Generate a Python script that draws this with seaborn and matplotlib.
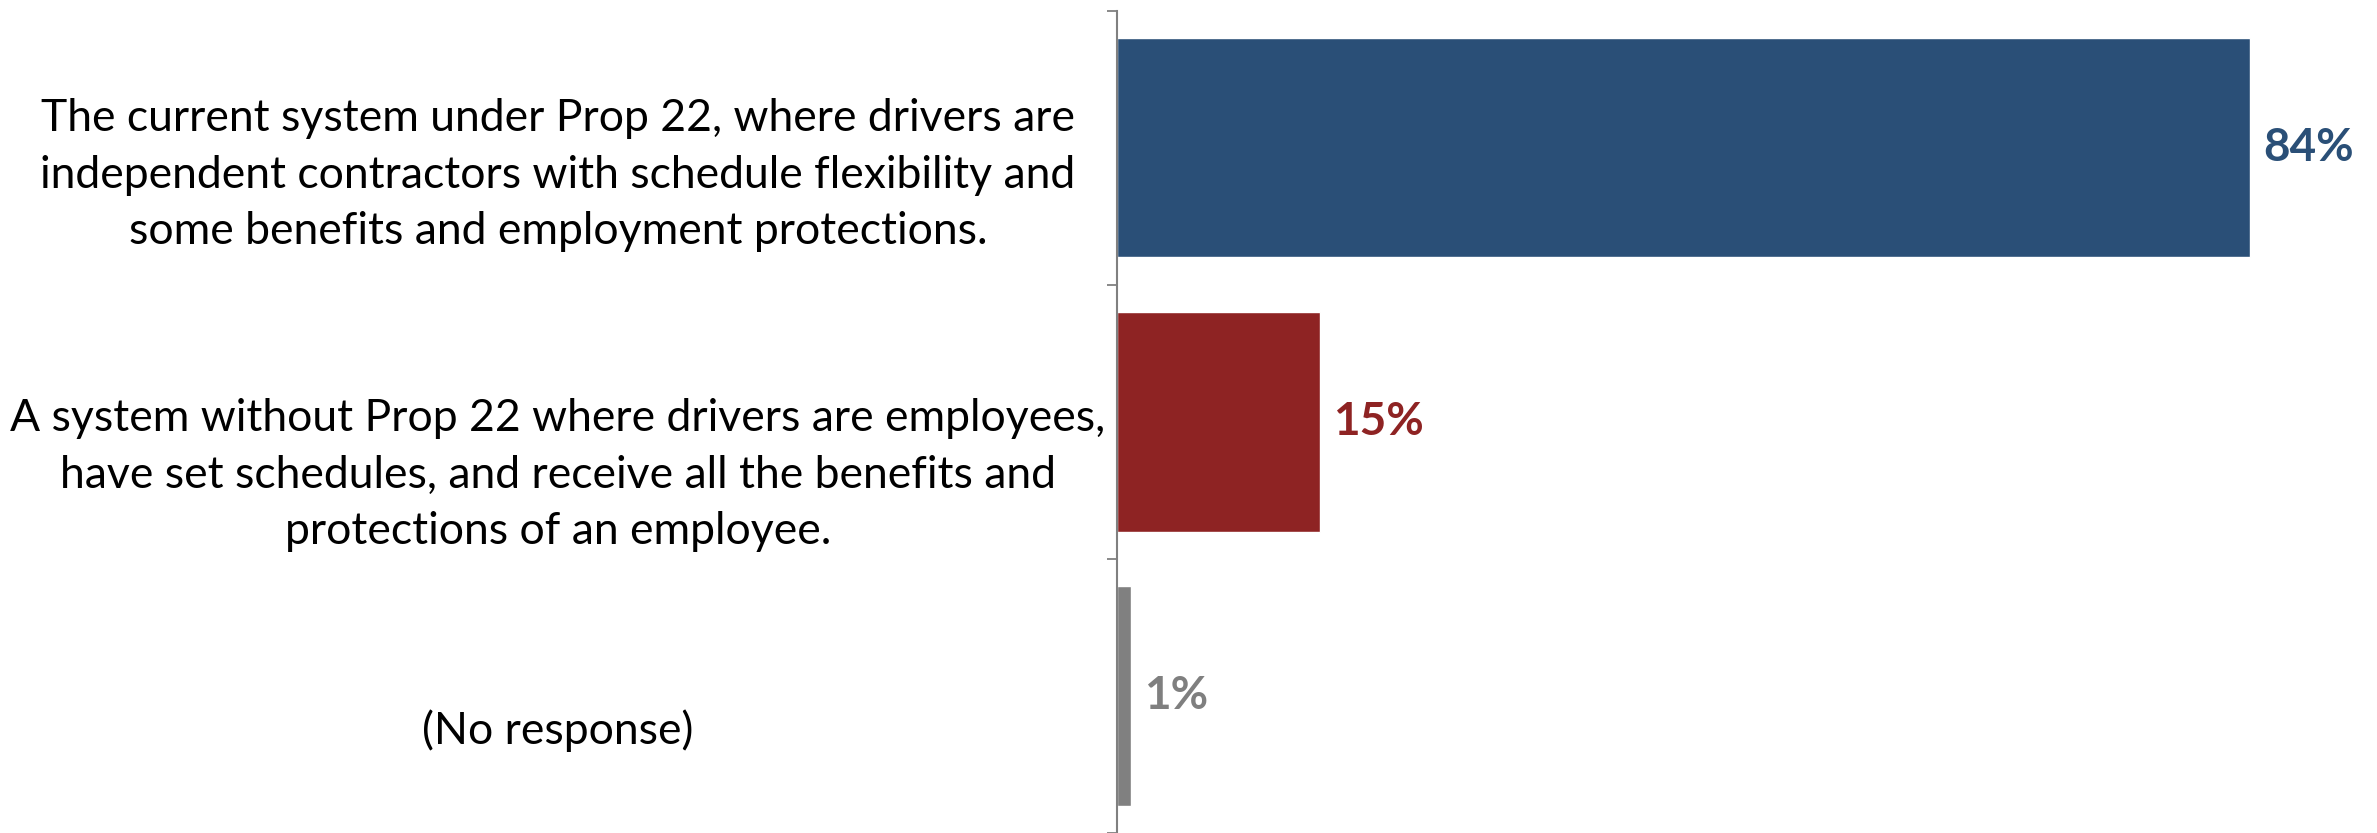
import pandas as pd
import seaborn as sns
import matplotlib.pyplot as plt
import matplotlib.transforms as mtransforms

categories = [
    "The current system under Prop 22, where drivers are\nindependent contractors with schedule flexibility and\nsome benefits and employment protections.",
    "A system without Prop 22 where drivers are employees,\nhave set schedules, and receive all the benefits and\nprotections of an employee.",
    "(No response)",
]
values = [84, 15, 1]
bar_colors = ["#2A4F77", "#8E2323", "#808080"]
label_colors = ["#2A4F77", "#8E2323", "#7F7F7F"]
label_shift = [0.10, 0.195, 0.125]

df = pd.DataFrame({"choice": categories, "pct": values})

sns.set_theme(style="white")
plt.rcParams['font.family'] = ['Lato', 'DejaVu Sans']

fig = plt.figure(figsize=(23.77, 8.33), dpi=100, facecolor='w')
ax = fig.add_axes([0.47, 0.0, 0.53, 0.987])

sns.barplot(data=df, y="choice", x="pct", hue="choice", palette=bar_colors,
            orient="h", width=0.8, legend=False, ax=ax, saturation=1)

ax.set_xlim(0, 93.4)
ax.set_ylim(2.5, -0.5)
ax.set_xlabel("")
ax.set_ylabel("")
ax.set_xticks([])

# category labels drawn by hand so they can sit centered left of the axis
ax.set_yticks([])
ax.set_yticks([-0.5, 0.5, 1.5, 2.5], minor=True)
ax.tick_params(axis='y', which='minor', left=True, length=7, width=1.3, color='#808080')
trans = mtransforms.blended_transform_factory(fig.transFigure, ax.transData)
for i, txt in enumerate(categories):
    ax.text(0.2347, i + label_shift[i], txt, transform=trans, ha='center', va='center',
            fontsize=32, color='black', linespacing=1.47)

for i, v in enumerate(values):
    ax.text(v + 1.0, i, f"{v}%", ha='left', va='center', fontsize=33,
            fontweight='bold', color=label_colors[i])

for side in ['top', 'right', 'bottom']:
    ax.spines[side].set_visible(False)
ax.spines['left'].set_color('#808080')
ax.spines['left'].set_linewidth(1.5)

plt.savefig("out.png", dpi=100)
